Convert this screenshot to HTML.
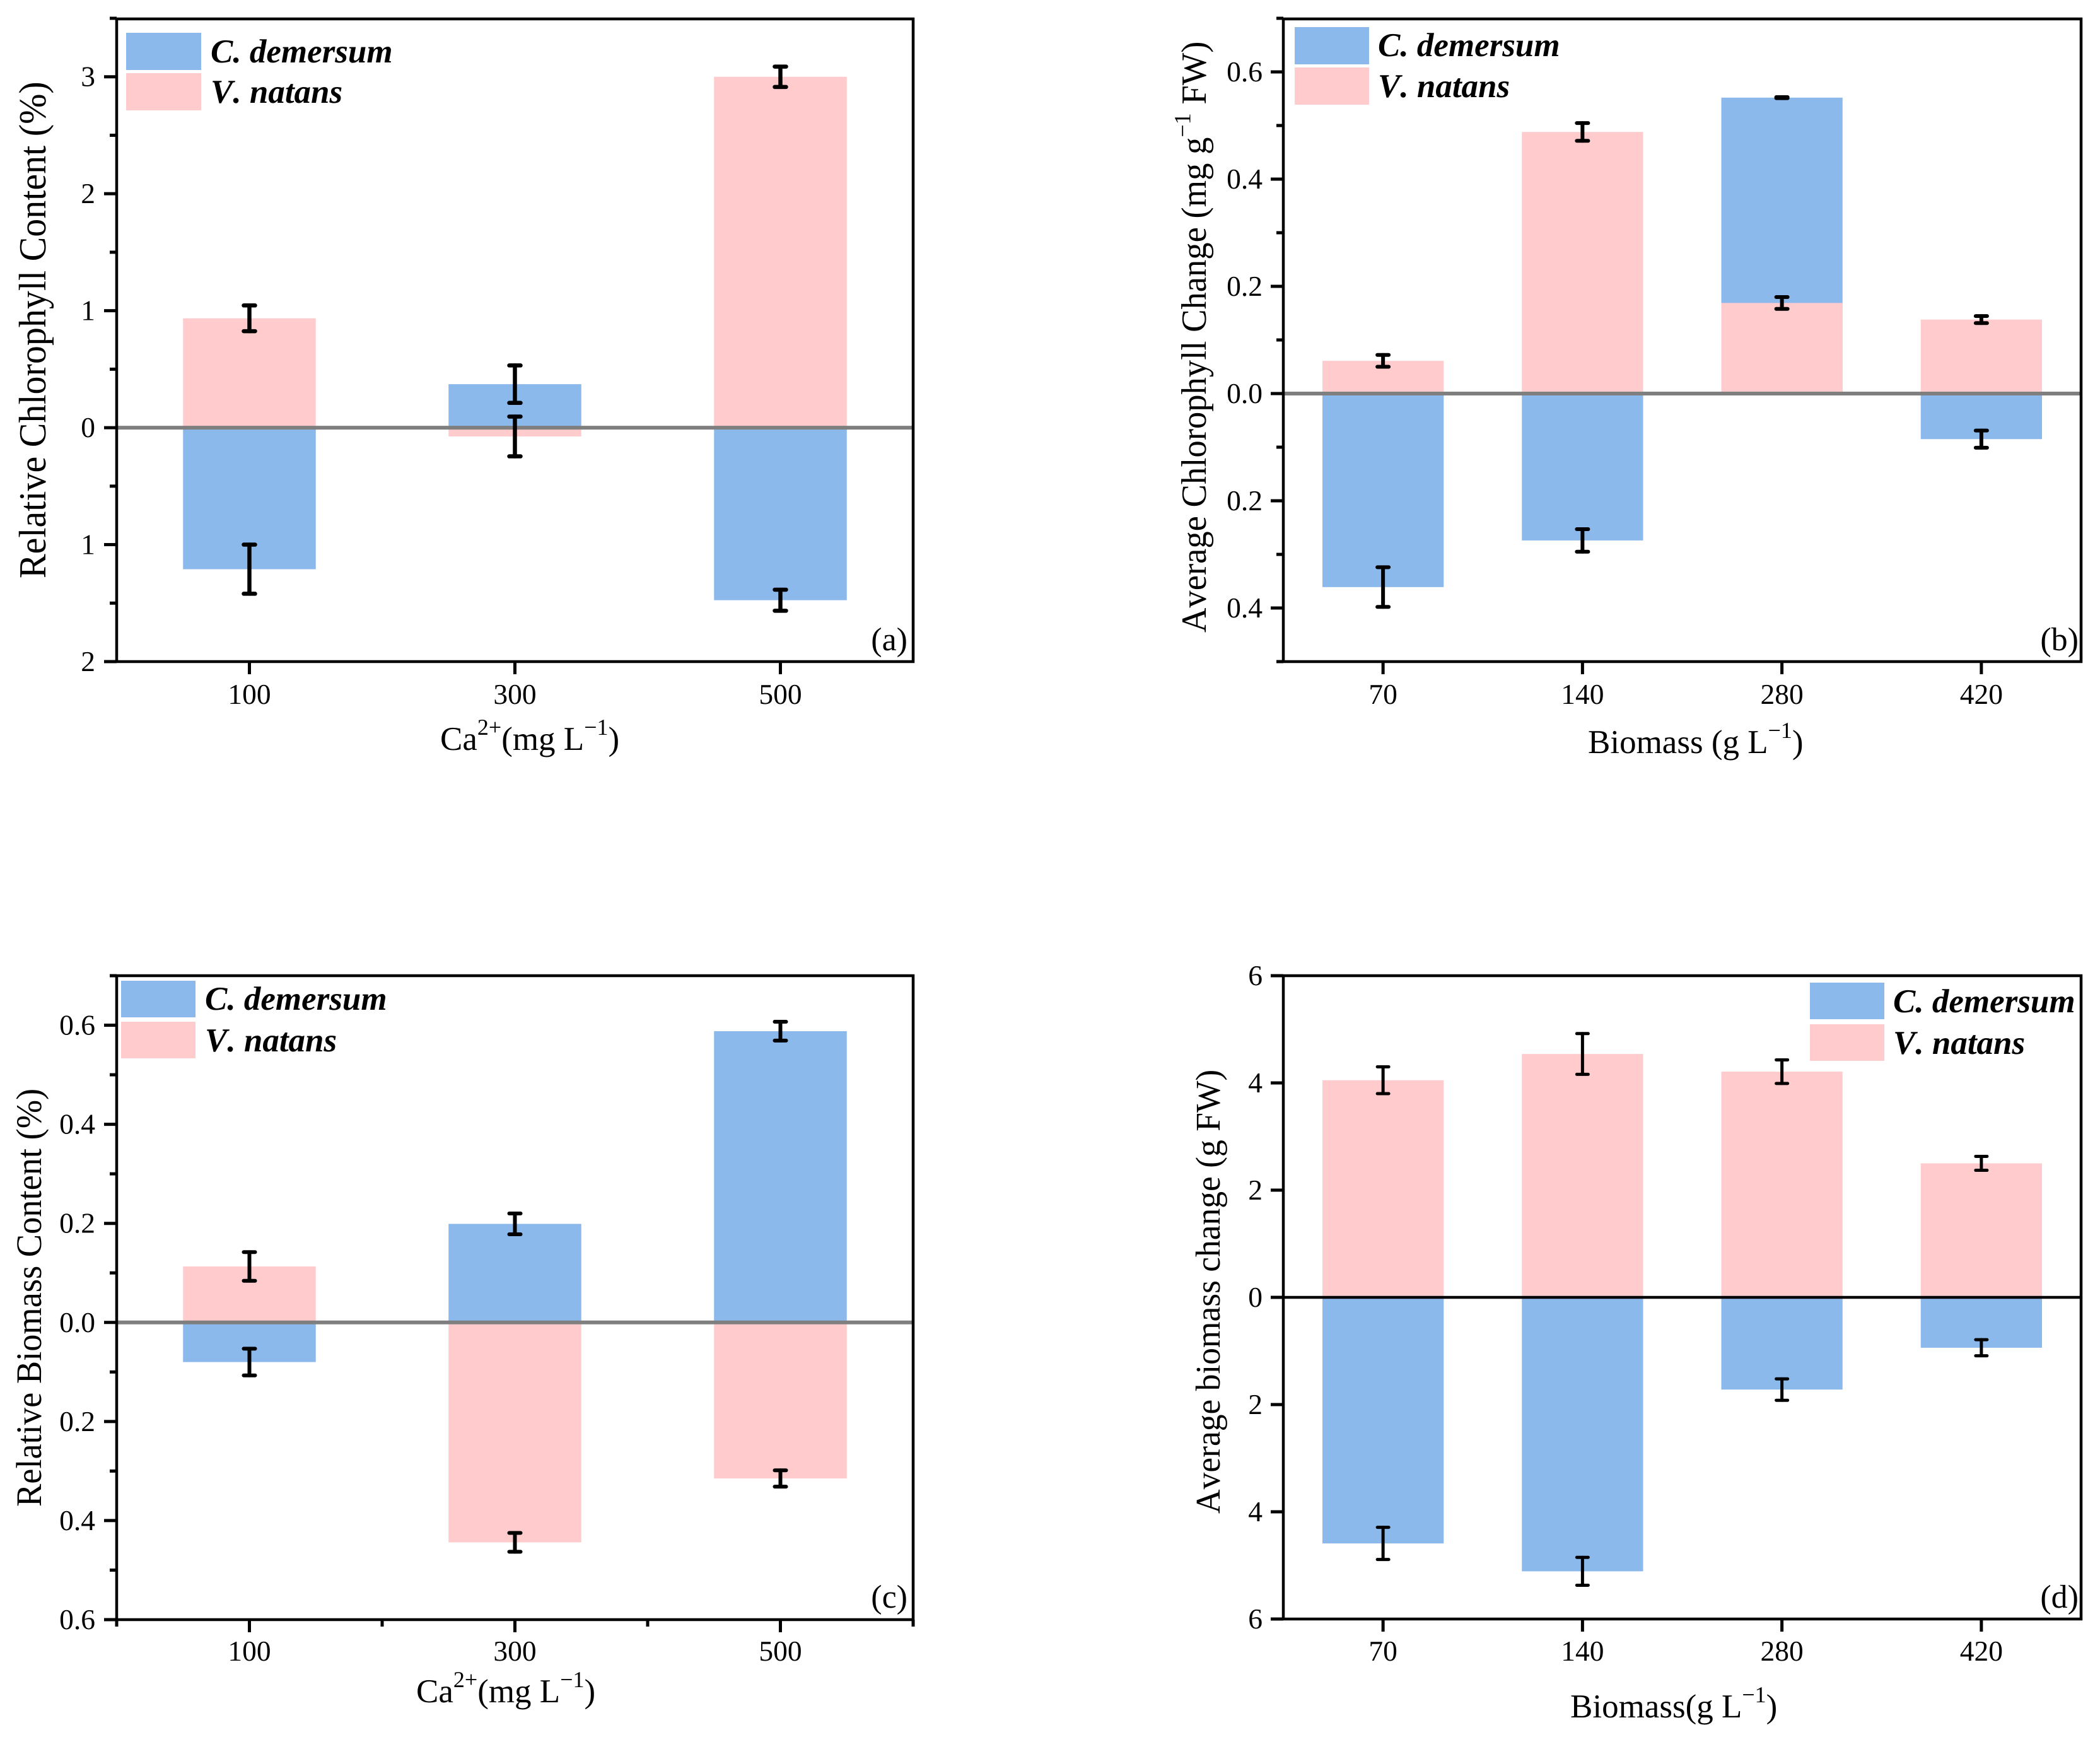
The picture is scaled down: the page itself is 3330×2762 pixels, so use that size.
<!DOCTYPE html>
<html lang="en">
<head>
<meta charset="utf-8">
<title>Chlorophyll and biomass change charts</title>
<style>
html,body{margin:0;padding:0;background:#fff;}
svg{display:block;}
text{font-family:"Liberation Serif",serif;fill:#000;font-kerning:none;text-rendering:geometricPrecision;}
.ttl{font-size:53px;}
.leg{font-size:53px;font-weight:bold;font-style:italic;}
.tick{font-size:45.5px;}
.tag{font-size:52px;}
</style>
</head>
<body>
<svg id="figure" xmlns="http://www.w3.org/2000/svg" width="3330" height="2762" viewBox="0 0 3330 2762">
  <rect x="0" y="0" width="3330" height="2762" fill="#fff"/>
  <g id="panel-a"></g>
  <g id="panel-b"></g>
  <g id="panel-c"></g>
  <g id="panel-d"></g>

  <text class="ttl" x="698" y="1189">Ca<tspan font-size="36" dy="-24">2+</tspan><tspan dy="24">(mg L</tspan><tspan font-size="36" dy="-24">−1</tspan><tspan dy="24">)</tspan></text>
  <text class="ttl" x="2518" y="1194">Biomass (g L<tspan font-size="36" dy="-24">−1</tspan><tspan dy="24">)</tspan></text>
  <text class="ttl" x="660" y="2699">Ca<tspan font-size="36" dy="-24">2+</tspan><tspan dy="24">(mg L</tspan><tspan font-size="36" dy="-24">−1</tspan><tspan dy="24">)</tspan></text>
  <text class="ttl" x="2490" y="2723">Biomass(g L<tspan font-size="36" dy="-24">−1</tspan><tspan dy="24">)</tspan></text>

  <text style="font-size:58px" transform="translate(72,917) rotate(-90) scale(1,1.05)">Relative Chlorophyll Content (%)</text>
  <text style="font-size:54.6px" transform="translate(1912,1003) rotate(-90) scale(1,1.03)">Average Chlorophyll Change (mg g<tspan font-size="36" dy="-24">−1</tspan><tspan dy="24"> FW)</tspan></text>
  <text style="font-size:54.4px" transform="translate(65,2389) rotate(-90) scale(1,1.05)">Relative Biomass Content (%)</text>
  <text style="font-size:53.5px" transform="translate(1934,2400) rotate(-90) scale(1,1.03)">Average biomass change (g FW)</text>
</svg>
<script>
// ---------- panel (a) data ----------
const aCategories = ['100', '300', '500'];
const aDemersum = [-1.21, 0.372, -1.475];
const aNatans = [0.935, -0.075, 3.0];
const aDemersumErr = [0.21, 0.16, 0.09];
const aNatansErr = [0.11, 0.17, 0.087];
const aYTicks = [-2, -1, 0, 1, 2, 3];
const aYTickLabels = ['2', '1', '0', '1', '2', '3'];
const aYMinorTicks = [-1.5, -0.5, 0.5, 1.5, 2.5, 3.5];

// ---------- panel (b) data ----------
const bCategories = ['70', '140', '280', '420'];
const bDemersum = [-0.361, -0.274, 0.552, -0.085];
const bNatans = [0.061, 0.488, 0.169, 0.138];
const bDemersumErr = [0.037, 0.021, 0.001, 0.016];
const bNatansErr = [0.011, 0.0165, 0.011, 0.0066];
const bYTicks = [-0.4, -0.2, 0, 0.2, 0.4, 0.6];
const bYTickLabels = ['0.4', '0.2', '0.0', '0.2', '0.4', '0.6'];
const bYMinorTicks = [-0.5, -0.3, -0.1, 0.1, 0.3, 0.5, 0.7];

// ---------- panel (c) data ----------
const cCategories = ['100', '300', '500'];
const cDemersum = [-0.08, 0.199, 0.588];
const cNatans = [0.113, -0.444, -0.315];
const cDemersumErr = [0.027, 0.021, 0.019];
const cNatansErr = [0.029, 0.019, 0.0165];
const cYTicks = [-0.6, -0.4, -0.2, 0, 0.2, 0.4, 0.6];
const cYTickLabels = ['0.6', '0.4', '0.2', '0.0', '0.2', '0.4', '0.6'];
const cYMinorTicks = [-0.5, -0.3, -0.1, 0.1, 0.3, 0.5, 0.7];

// ---------- panel (d) data ----------
const dCategories = ['70', '140', '280', '420'];
const dDemersum = [-4.59, -5.11, -1.72, -0.94];
const dNatans = [4.05, 4.54, 4.21, 2.5];
const dDemersumErr = [0.3, 0.26, 0.2, 0.15];
const dNatansErr = [0.25, 0.38, 0.22, 0.13];
const dYTicks = [-6, -4, -2, 0, 2, 4, 6];
const dYTickLabels = ['6', '4', '2', '0', '2', '4', '6'];
const dYMinorTicks = [];

const SVGNS = 'http://www.w3.org/2000/svg';
const BLUE = '#8bb9ec';
const PINK = '#ffcbcc';

function make(parent, tag, attrs, text) {
  const el = document.createElementNS(SVGNS, tag);
  for (const k in attrs) el.setAttribute(k, attrs[k]);
  if (text !== undefined) el.textContent = text;
  parent.appendChild(el);
  return el;
}

function drawPanel(p) {
  const root = document.getElementById(p.id);
  const yScale = v => p.bottom - (v - p.yMin) / (p.yMax - p.yMin) * (p.bottom - p.top);
  const xStep = (p.right - p.left) / p.categories.length;
  const xScale = i => p.left + (i + 0.5) * xStep;
  const barW = xStep * p.barFrac;

  function bars(values, fill, name) {
    values.forEach((v, i) => {
      const y0 = yScale(0), y1 = yScale(v);
      const r = make(root, 'rect', {x: xScale(i) - barW / 2, y: Math.min(y0, y1), width: barW, height: Math.abs(y1 - y0), fill: fill});
      
      
    });
  }
  bars(p.demersum, BLUE, 'bar-c-demersum');
  bars(p.natans, PINK, 'bar-v-natans');

  // zero line
  const zero = make(root, 'line', {x1: p.left, x2: p.right, y1: yScale(0), y2: yScale(0), stroke: p.zeroColor, 'stroke-width': p.zeroWidth});
  
  

  // error bars
  function errs(values, errors, name) {
    values.forEach((v, i) => {
      const x = xScale(i), hi = yScale(v + errors[i]), lo = yScale(v - errors[i]);
      const g = make(root, 'g', {stroke: '#000', 'stroke-width': p.errWidth, 'stroke-linecap': 'round', fill: 'none'});
      
      
      make(g, 'line', {x1: x, x2: x, y1: hi, y2: lo});
      make(g, 'line', {x1: x - p.capHalf, x2: x + p.capHalf, y1: hi, y2: hi});
      make(g, 'line', {x1: x - p.capHalf, x2: x + p.capHalf, y1: lo, y2: lo});
    });
  }
  errs(p.demersum, p.demersumErr, 'error-bar-c-demersum');
  errs(p.natans, p.natansErr, 'error-bar-v-natans');

  // frame
  const frame = make(root, 'rect', {x: p.left, y: p.frameTop, width: p.right - p.left, height: p.bottom - p.frameTop, fill: 'none', stroke: '#000', 'stroke-width': 4.5});
  
  

  // y ticks
  p.yTicks.forEach((v, i) => {
    const y = yScale(v);
    const t = make(root, 'line', {x1: p.left - 20, x2: p.left, y1: y, y2: y, stroke: '#000', 'stroke-width': 5});
    
    
    const l = make(root, 'text', {class: 'tick', x: p.yLabelX, y: y + 15, 'text-anchor': 'end'}, p.yTickLabels[i]);
    
    
  });
  p.yMinor.forEach(v => {
    const y = yScale(v);
    const t = make(root, 'line', {x1: p.left - 11, x2: p.left, y1: y, y2: y, stroke: '#000', 'stroke-width': 5});
    
    
  });

  // x ticks
  p.categories.forEach((c, i) => {
    const x = xScale(i);
    const t = make(root, 'line', {x1: x, x2: x, y1: p.bottom, y2: p.bottom + 20, stroke: '#000', 'stroke-width': 5});
    
    
    const l = make(root, 'text', {class: 'tick', x: x, y: p.xLabelY, 'text-anchor': 'middle'}, c);
    
    
  });
  if (p.xMinor) {
    for (let i = 0; i <= p.categories.length; i++) {
      const x = p.left + i * xStep;
      const t = make(root, 'line', {x1: x, x2: x, y1: p.bottom, y2: p.bottom + 11, stroke: '#000', 'stroke-width': 5});
      
      
    }
  }

  // legend
  const lg = make(root, 'g', {});
  
  
  const s1 = make(lg, 'rect', {x: p.legX, y: p.legY[0], width: p.legW, height: p.legH, fill: BLUE});
  
  
  const s2 = make(lg, 'rect', {x: p.legX, y: p.legY[1], width: p.legW, height: p.legH, fill: PINK});
  
  
  const t1 = make(lg, 'text', {class: 'leg', x: p.legTextX, y: p.legBase[0]}, 'C. demersum');
  
  
  const t2 = make(lg, 'text', {class: 'leg', x: p.legTextX, y: p.legBase[1]}, 'V. natans');
  
  

  // panel tag
  const tag = make(root, 'text', {class: 'tag', x: p.tagX, y: p.tagY, 'text-anchor': 'end'}, p.tag);
  
  
}

drawPanel({id: 'panel-a', left: 185, right: 1448, top: 29, frameTop: 30, bottom: 1049, yMin: -2, yMax: 3.5, barFrac: 0.5, capHalf: 9, errWidth: 6.5, zeroColor: '#7f7f7f', zeroWidth: 6,
  categories: aCategories, demersum: aDemersum, natans: aNatans, demersumErr: aDemersumErr, natansErr: aNatansErr, yTicks: aYTicks, yTickLabels: aYTickLabels, yMinor: aYMinorTicks,
  yLabelX: 151, xLabelY: 1116, xMinor: false, legX: 200, legY: [52, 116], legW: 119, legH: 59, legTextX: 334, legBase: [99, 163], tag: '(a)', tagX: 1439, tagY: 1031});

drawPanel({id: 'panel-b', left: 2035, right: 3300, top: 29, frameTop: 30, bottom: 1049, yMin: -0.5, yMax: 0.7, barFrac: 0.608, capHalf: 9, errWidth: 6, zeroColor: '#7f7f7f', zeroWidth: 6,
  categories: bCategories, demersum: bDemersum, natans: bNatans, demersumErr: bDemersumErr, natansErr: bNatansErr, yTicks: bYTicks, yTickLabels: bYTickLabels, yMinor: bYMinorTicks,
  yLabelX: 2002, xLabelY: 1116, xMinor: false, legX: 2053, legY: [43, 107], legW: 118, legH: 59, legTextX: 2185, legBase: [89, 154], tag: '(b)', tagX: 3296, tagY: 1031});

drawPanel({id: 'panel-c', left: 185, right: 1448, top: 1547, frameTop: 1547, bottom: 2568, yMin: -0.6, yMax: 0.7, barFrac: 0.5, capHalf: 9, errWidth: 6, zeroColor: '#7f7f7f', zeroWidth: 6,
  categories: cCategories, demersum: cDemersum, natans: cNatans, demersumErr: cDemersumErr, natansErr: cNatansErr, yTicks: cYTicks, yTickLabels: cYTickLabels, yMinor: cYMinorTicks,
  yLabelX: 151, xLabelY: 2633, xMinor: true, legX: 192, legY: [1555, 1620], legW: 118, legH: 58, legTextX: 325, legBase: [1601, 1667], tag: '(c)', tagX: 1439, tagY: 2549});

drawPanel({id: 'panel-d', left: 2035, right: 3300, top: 1547, frameTop: 1547, bottom: 2567, yMin: -6, yMax: 6, barFrac: 0.608, capHalf: 9, errWidth: 5, zeroColor: '#000', zeroWidth: 4.5,
  categories: dCategories, demersum: dDemersum, natans: dNatans, demersumErr: dDemersumErr, natansErr: dNatansErr, yTicks: dYTicks, yTickLabels: dYTickLabels, yMinor: dYMinorTicks,
  yLabelX: 2002, xLabelY: 2633, xMinor: false, legX: 2870, legY: [1558, 1624], legW: 118, legH: 58, legTextX: 3002, legBase: [1605, 1671], tag: '(d)', tagX: 3296, tagY: 2549});
</script>
</body>
</html>
